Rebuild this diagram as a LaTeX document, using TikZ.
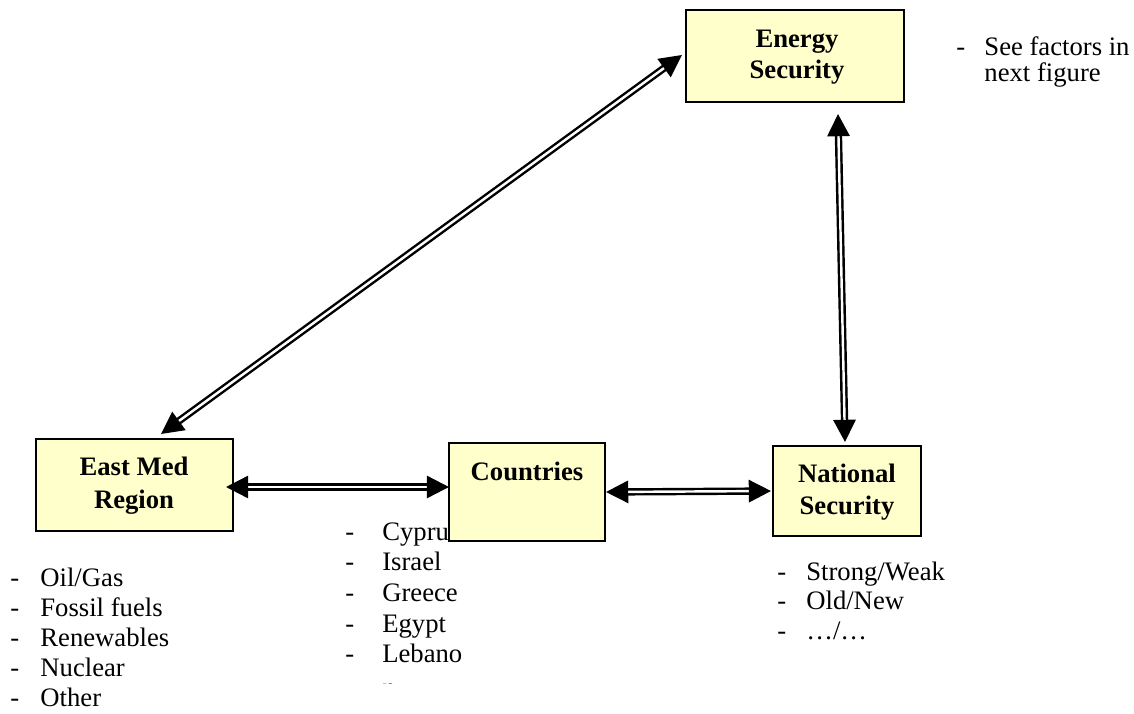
\documentclass[tikz,border=0pt]{standalone}
\usepackage{fontspec}
\setmainfont{Liberation Serif}
\usetikzlibrary{arrows.meta,calc}
\definecolor{boxfill}{HTML}{FFFFCC}
\begin{document}
\begin{tikzpicture}[x=0.45pt,y=-0.45pt,
  font=\fontsize{12pt}{14pt}\selectfont,
  box/.style={draw=black,line width=0.9pt,fill=boxfill,inner sep=0pt},
  lbl/.style={anchor=base,font=\fontsize{12pt}{14pt}\selectfont\bfseries,inner sep=0pt},
  item/.style={anchor=base west,inner sep=0pt},
  conn/.style={draw=black,line width=1.1pt,double=white,double distance=1.1pt,
    {Triangle[length=10pt,width=10pt]}-{Triangle[length=10pt,width=10pt]}}]
\useasboundingbox (0,0) rectangle (1134,713);

% side notes under the boxes (drawn first so the boxes cover their overflow)
\foreach \t [count=\i from 0] in {Oil/Gas,Fossil fuels,Renewables,Nuclear,Other}
  \node[item] (em\i) at (10,586+30*\i) {\makebox[13.5pt][l]{-}\t};
\foreach \t [count=\i from 0] in {Cyprus,Israel,Greece,Egypt,Lebano}
  \node[item] (ct\i) at (345,540+30.7*\i) {\makebox[16.6pt][l]{-}\t};
\begin{scope}
  \clip (370,670) rectangle (420,683);
  \node[item] (ct5) at (382,696) {n};
\end{scope}
\foreach \t [count=\i from 0] in {Strong/Weak,Old/New,…/…}
  \node[item] (ns\i) at (777,580+29.5*\i) {\makebox[13pt][l]{-}\t};
\node[item] (sf0) at (956,55) {\makebox[12.6pt][l]{-}See factors in};
\node[item] (sf1) at (984,81) {next figure};

% boxes
\node[box,minimum width=98.1pt,minimum height=41.4pt] (es) at (795,56) {};
\node[box,minimum width=88.65pt,minimum height=41.4pt] (em) at (134.5,485) {};
\node[box,minimum width=70.2pt,minimum height=44.1pt] (ct) at (527,492) {};
\node[box,minimum width=66.6pt,minimum height=40.5pt] (ns) at (847,491) {};

\node[lbl] at (797,47) {Energy};
\node[lbl] at (797,78) {Security};
\node[lbl] at (134,475) {East Med};
\node[lbl] at (134,508) {Region};
\node[lbl] at (527,480) {Countries};
\node[lbl] at (847,482) {National};
\node[lbl] at (847,514) {Security};

% two-way links
\draw[conn] ($(em.north)+(26.5,-4)$) -- ($(es.west)+(-3,-1)$);
\draw[conn] ($(es.south)+(43,11)$) -- ($(ns.north)+(-2,-3)$);
\draw[conn] ($(em.east)+(-8,2)$) -- ($(ct.west)+(1,-5)$);
\draw[conn] ($(ct.east)+(0,0)$) -- ($(ns.west)+(-1,0)$);
\end{tikzpicture}
\end{document}
